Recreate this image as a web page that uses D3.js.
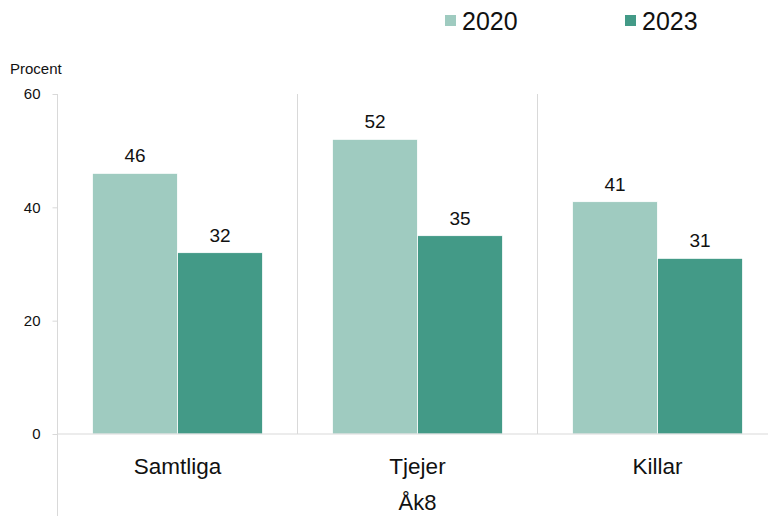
<!DOCTYPE html>
<html><head><meta charset="utf-8">
<script src="https://cdn.jsdelivr.net/npm/d3@7"></script>
<style>body{margin:0;background:#fff}svg{display:block;font-family:"Liberation Sans",Arial,sans-serif}</style>
</head><body><svg id="c" width="768" height="516"></svg>
<script>
const categories = ["Samtliga", "Tjejer", "Killar"];
const seriesNames = ["2020", "2023"];
const values2020 = [46, 52, 41];
const values2023 = [32, 35, 31];
const yTicks = [0, 20, 40, 60];
const groupLabel = "Åk8";
const colors = ["#9fcbc0", "#439a87"];

(function () {
const svg = d3.select("#c");
const mLeft = 57.5, mRight = 777.5, mTop = 94, mBottom = 434;
const x = d3.scaleBand().domain(categories).range([mLeft, mRight]);
const inner = d3.scaleBand().domain(seriesNames).range([0, x.bandwidth()]).paddingOuter(0.41).paddingInner(0.0);
const y = d3.scaleLinear().domain([0, 60]).range([mBottom, mTop]);
const series = [values2020, values2023];

// separators
svg.append("g").selectAll("line").data(categories.slice(1)).join("line")
  .attr("x1", d => x(d)).attr("x2", d => x(d)).attr("y1", mTop).attr("y2", mBottom)
  .attr("stroke", "#d9d9d9").attr("stroke-width", 1);

// bars
seriesNames.forEach((s, si) => {
  const g = svg.append("g");
  g.selectAll("rect").data(categories).join("rect")
    .attr("x", d => x(d) + inner(s)).attr("width", inner.bandwidth())
    .attr("y", (d, i) => y(series[si][i])).attr("height", (d, i) => y(0) - y(series[si][i]))
    .attr("fill", colors[si]).attr("stroke", "#fff").attr("stroke-width", 0.8);
  g.selectAll("text").data(categories).join("text")
    .attr("x", d => x(d) + inner(s) + inner.bandwidth() / 2)
    .attr("y", (d, i) => y(series[si][i]) - 11)
    .attr("text-anchor", "middle").attr("font-size", 19).attr("fill", "#111")
    .text((d, i) => series[si][i]);
});

// y axis
const ya = svg.append("g").attr("transform", `translate(${mLeft},0)`)
  .call(d3.axisLeft(y).tickValues(yTicks).tickSize(5).tickPadding(12));
ya.select(".domain").remove();
ya.selectAll(".tick line").attr("stroke", "#d9d9d9");
ya.selectAll(".tick text").attr("font-size", 15).attr("fill", "#111").attr("font-family", "Liberation Sans, Arial, sans-serif");
svg.append("line").attr("x1", mLeft).attr("x2", mLeft).attr("y1", mTop).attr("y2", 516).attr("stroke", "#d9d9d9");
svg.append("line").attr("x1", mLeft).attr("x2", 768).attr("y1", mBottom).attr("y2", mBottom).attr("stroke", "#d9d9d9");

// x labels
svg.append("g").selectAll("text").data(categories).join("text")
  .attr("x", d => x(d) + x.bandwidth() / 2).attr("y", 474)
  .attr("text-anchor", "middle").attr("font-size", 22.5).attr("fill", "#111").text(d => d);
svg.append("text").attr("x", 417.5).attr("y", 510).attr("text-anchor", "middle")
  .attr("font-size", 22).attr("fill", "#111").text(groupLabel);

svg.append("text").attr("x", 10).attr("y", 74).attr("font-size", 15).attr("fill", "#111").text("Procent");

// legend
const lx = [445, 625];
seriesNames.forEach((s, i) => {
  svg.append("rect").attr("x", lx[i]).attr("y", 15).attr("width", 11).attr("height", 11).attr("fill", colors[i]);
  svg.append("text").attr("x", lx[i] + 17).attr("y", 30).attr("font-size", 25).attr("fill", "#111").text(s);
});
})();
</script></body></html>
